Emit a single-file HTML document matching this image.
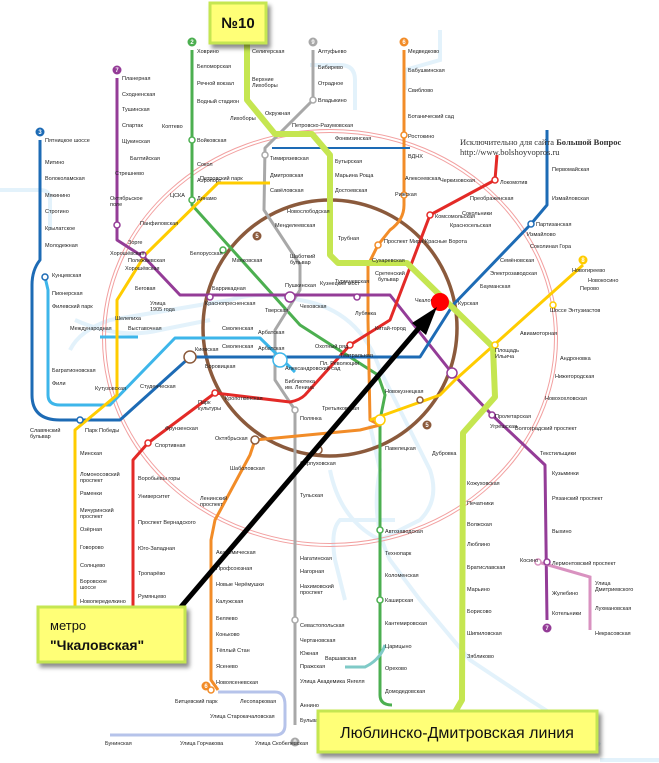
<!DOCTYPE html>
<html><head><meta charset="utf-8">
<style>
html,body{margin:0;padding:0;background:#fff;}
svg{display:block;font-family:"Liberation Sans",sans-serif;}
.s{font-size:5.5px;fill:#222;}
</style></head><body>
<svg width="659" height="763" viewBox="0 0 659 763" xmlns="http://www.w3.org/2000/svg">
<defs>
<filter id="sh" x="-10%" y="-10%" width="130%" height="140%"><feDropShadow dx="3" dy="4" stdDeviation="2" flood-color="#000" flood-opacity="0.45"/></filter>
</defs>
<g fill="none" stroke="#e3f2fb" stroke-width="4">
<path d="M0,190 L40,190 Q50,190 50,200 L50,230"/>
<path d="M70,350 Q80,330 110,320 L230,300 Q260,290 300,300 Q360,310 380,370 L430,470 Q440,500 420,520 L380,540 Q340,520 330,470"/>
<path d="M310,65 L340,65 Q355,65 355,80 L355,110"/>
<path d="M370,425 L380,470 Q370,520 390,560 L420,600 L470,660 L530,700 L600,745"/>
<path d="M405,90 L405,70 L440,60 L440,30"/>
<path d="M75,320 Q120,340 160,330 L210,320"/>
<path d="M395,520 L340,520 Q330,530 335,560 L345,600"/>
<path d="M600,760 L659,760"/>
</g>
<ellipse cx="330" cy="338" rx="227.5" ry="208.5" fill="none" stroke="#f2a0a0" stroke-width="1"/>
<ellipse cx="330" cy="338" rx="224.5" ry="205.5" fill="none" stroke="#f2a0a0" stroke-width="1"/>
<ellipse cx="330" cy="328" rx="127" ry="128" fill="none" stroke="#8b5a3c" stroke-width="3.5"/>
<g fill="none" stroke-width="3" stroke-linejoin="round">
<path d="M192,50 L192,205 L300,325 L378,375 L385,395 L380,420 L380,695 Q380,705 392,705" stroke="#4caf50"/>
<path d="M313,50 L313,100 L265,148 L264,210 L300,265 L300,290 L275,330 L275,380 L295,410 L295,725" stroke="#a8a8a8"/>
<path d="M404,50 L404,205 Q404,220 390,230 L378,245 L368,265 L368,320 L370,420 L380,425 L360,430 L255,440 L250,455 L215,520 L211,540 L211,680 L218,690" stroke="#f28c28"/>
<path d="M117,78 L117,240 L145,258 L180,295 L390,295 L452,373 L492,415 L545,465 L547,620" stroke="#943c97"/>
<path d="M497,155 L495,180 L430,215 L390,320 L350,345 L305,395 Q300,400 290,402 L215,393 L148,443 L133,460 L133,660" stroke="#e32a27"/>
<path d="M40,140 L40,260 Q32,270 32,285 L32,395 Q32,420 60,420 L120,420 L190,357 L420,357 L453,305 L531,224 L547,205 L547,130" stroke="#1d6bb5"/>
<path d="M45,277 L48,290 L48,395 Q48,405 60,405 L110,405 L175,338 L260,338 L295,372 M100,337 L138,337" stroke="#3db6ea"/>
<path d="M583,265 L455,380 L440,395 L370,420 M75,660 L75,430 L117,395 L117,300 L145,255 L218,183 L270,183" stroke="#ffcc00"/>
<path d="M345,667 L365,667 Q380,660 385,645" stroke="#7fcac7"/>
<path d="M272,148 L410,148" stroke="#1d6bb5" stroke-width="2"/>
</g>
<path d="M218,692 L275,692 Q285,692 285,705 L285,725 Q285,735 275,735 L110,735" fill="none" stroke="#b6c3ea" stroke-width="3"/>
<path d="M538,562 L590,577 L590,630" fill="none" stroke="#d992c0" stroke-width="3"/>
<path d="M247,40 L247,100 L275,134 L312,134 L330,155 L330,255 L338,263 L407,263 L493,347 L495,397 L463,433 L462,700 L455,712" fill="none" stroke="#c5e651" stroke-width="6" stroke-linejoin="round"/>
<g font-size="6" fill="#fff" text-anchor="middle" font-weight="bold">
<circle cx="192" cy="42" r="4.5" fill="#4caf50"/><text x="192" y="44">2</text>
<circle cx="313" cy="42" r="4.5" fill="#a8a8a8"/><text x="313" y="44">9</text>
<circle cx="404" cy="42" r="4.5" fill="#f28c28"/><text x="404" y="44">6</text>
<circle cx="117" cy="70" r="4.5" fill="#943c97"/><text x="117" y="72">7</text>
<circle cx="40" cy="132" r="4.5" fill="#1d6bb5"/><text x="40" y="134">3</text>
<circle cx="583" cy="260" r="4.5" fill="#ffcc00"/><text x="583" y="262">8</text>
<circle cx="547" cy="628" r="4.5" fill="#943c97"/><text x="547" y="630">7</text>
<circle cx="257" cy="236" r="4.5" fill="#8b5a3c"/><text x="257" y="238">5</text>
<circle cx="427" cy="425" r="4.5" fill="#8b5a3c"/><text x="427" y="427">5</text>
<circle cx="206" cy="686" r="4.5" fill="#f28c28"/><text x="206" y="688">6</text>
<circle cx="295" cy="742" r="4.5" fill="#a8a8a8"/><text x="295" y="744">9</text>
</g>
<g fill="#fff" stroke-width="1.5">
<circle cx="192" cy="140" r="3" stroke="#4caf50"/><circle cx="192" cy="200" r="3" stroke="#4caf50"/>
<circle cx="223" cy="250" r="3" stroke="#4caf50"/><circle cx="117" cy="225" r="3" stroke="#943c97"/>
<circle cx="143" cy="255" r="3" stroke="#943c97"/><circle cx="210" cy="297" r="3" stroke="#943c97"/>
<circle cx="290" cy="297" r="5" stroke="#943c97"/><circle cx="357" cy="297" r="3" stroke="#943c97"/>
<circle cx="452" cy="373" r="5" stroke="#943c97"/><circle cx="492" cy="415" r="3" stroke="#943c97"/>
<circle cx="430" cy="215" r="3" stroke="#e32a27"/><circle cx="495" cy="180" r="3" stroke="#e32a27"/>
<circle cx="350" cy="345" r="3" stroke="#e32a27"/><circle cx="215" cy="393" r="3" stroke="#e32a27"/>
<circle cx="148" cy="443" r="3" stroke="#e32a27"/><circle cx="190" cy="357" r="6" stroke="#8b5a3c"/>
<circle cx="280" cy="360" r="7" stroke="#3db6ea"/><circle cx="531" cy="224" r="3" stroke="#1d6bb5"/>
<circle cx="80" cy="420" r="3" stroke="#1d6bb5"/><circle cx="45" cy="277" r="3" stroke="#1d6bb5"/>
<circle cx="380" cy="420" r="5" stroke="#ffcc00"/><circle cx="378" cy="245" r="3" stroke="#f28c28"/>
<circle cx="404" cy="195" r="3" stroke="#f28c28"/><circle cx="404" cy="135" r="3" stroke="#f28c28"/>
<circle cx="313" cy="100" r="3" stroke="#a8a8a8"/><circle cx="265" cy="155" r="3" stroke="#a8a8a8"/>
<circle cx="295" cy="410" r="3" stroke="#a8a8a8"/><circle cx="295" cy="620" r="3" stroke="#a8a8a8"/>
<circle cx="380" cy="530" r="3" stroke="#4caf50"/><circle cx="380" cy="600" r="3" stroke="#4caf50"/>
<circle cx="255" cy="440" r="4" stroke="#8b5a3c"/><circle cx="318" cy="450" r="4" stroke="#8b5a3c"/>
<circle cx="420" cy="400" r="3" stroke="#8b5a3c"/><circle cx="538" cy="562" r="3" stroke="#d992c0"/>
<circle cx="547" cy="562" r="3" stroke="#943c97"/><circle cx="211" cy="690" r="3" stroke="#f28c28"/>
<circle cx="553" cy="305" r="3" stroke="#ffcc00"/><circle cx="495" cy="345" r="3" stroke="#ffcc00"/>
</g>
<g class="s">
<text x="197" y="53">Ховрино</text><text x="197" y="68">Беломорская</text><text x="197" y="85">Речной вокзал</text><text x="197" y="103">Водный стадион</text><text x="162" y="128">Коптево</text><text x="197" y="142">Войковская</text><text x="197" y="166">Сокол</text><text x="197" y="182">Аэропорт</text><text x="197" y="200">Динамо</text>
<text x="122" y="80">Планерная</text><text x="122" y="96">Сходненская</text><text x="122" y="111">Тушинская</text><text x="122" y="127">Спартак</text><text x="122" y="143">Щукинская</text><text x="110" y="200">Октябрьское</text><text x="110" y="206">поле</text>
<text x="45" y="142">Пятницкое шоссе</text><text x="45" y="164">Митино</text><text x="45" y="180">Волоколамская</text><text x="45" y="197">Мякинино</text><text x="45" y="213">Строгино</text><text x="45" y="230">Крылатское</text><text x="45" y="247">Молодежная</text>
<text x="52" y="277">Кунцевская</text><text x="52" y="295">Пионерская</text><text x="52" y="308">Филевский парк</text><text x="52" y="372">Багратионовская</text><text x="52" y="385">Фили</text>
<text x="70" y="330">Международная</text><text x="128" y="330">Выставочная</text><text x="195" y="351">Киевская</text><text x="95" y="390">Кутузовская</text><text x="140" y="388">Студенческая</text><text x="30" y="432">Славянский</text><text x="30" y="438">бульвар</text><text x="85" y="432">Парк Победы</text>
<text x="80" y="455">Минская</text><text x="80" y="476">Ломоносовский</text><text x="80" y="482">проспект</text><text x="80" y="495">Раменки</text><text x="80" y="512">Мичуринский</text><text x="80" y="518">проспект</text><text x="80" y="531">Озёрная</text><text x="80" y="549">Говорово</text><text x="80" y="567">Солнцево</text><text x="80" y="583">Боровское</text><text x="80" y="589">шоссе</text><text x="80" y="603">Новопеределкино</text>
<text x="138" y="480">Воробьёвы горы</text><text x="138" y="498">Университет</text><text x="138" y="524">Проспект Вернадского</text><text x="138" y="550">Юго-Западная</text><text x="138" y="575">Тропарёво</text><text x="138" y="598">Румянцево</text><text x="155" y="447">Спортивная</text><text x="165" y="430">Фрунзенская</text>
<text x="216" y="554">Академическая</text><text x="216" y="570">Профсоюзная</text><text x="216" y="586">Новые Черёмушки</text><text x="216" y="603">Калужская</text><text x="216" y="620">Беляево</text><text x="216" y="636">Коньково</text><text x="216" y="652">Тёплый Стан</text><text x="216" y="668">Ясенево</text><text x="216" y="684">Новоясеневская</text><text x="200" y="500">Ленинский</text><text x="200" y="506">проспект</text><text x="230" y="470">Шаболовская</text><text x="215" y="440">Октябрьская</text>
<text x="175" y="703">Битцевский парк</text><text x="240" y="703">Лесопарковая</text><text x="210" y="718">Улица Старокачаловская</text><text x="105" y="745">Бунинская</text><text x="180" y="745">Улица Горчакова</text><text x="255" y="745">Улица Скобелевская</text>
<text x="300" y="420">Полянка</text><text x="300" y="465">Серпуховская</text><text x="300" y="497">Тульская</text><text x="300" y="560">Нагатинская</text><text x="300" y="573">Нагорная</text><text x="300" y="588">Нахимовский</text><text x="300" y="594">проспект</text><text x="300" y="627">Севастопольская</text><text x="300" y="642">Чертановская</text><text x="300" y="655">Южная</text><text x="300" y="668">Пражская</text><text x="300" y="683">Улица Академика Янгеля</text><text x="300" y="707">Аннино</text><text x="300" y="722">Бульвар</text>
<text x="385" y="533">Автозаводская</text><text x="385" y="555">Технопарк</text><text x="385" y="577">Коломенская</text><text x="385" y="602">Каширская</text><text x="385" y="625">Кантемировская</text><text x="385" y="648">Царицыно</text><text x="385" y="670">Орехово</text><text x="385" y="693">Домодедовская</text><text x="385" y="450">Павелецкая</text><text x="385" y="393">Новокузнецкая</text><text x="322" y="410">Третьяковская</text><text x="325" y="660">Варшавская</text>
<text x="467" y="485">Кожуховская</text><text x="467" y="505">Печатники</text><text x="467" y="526">Волжская</text><text x="467" y="546">Люблино</text><text x="467" y="569">Братиславская</text><text x="467" y="591">Марьино</text><text x="467" y="613">Борисово</text><text x="467" y="635">Шипиловская</text><text x="467" y="658">Зябликово</text><text x="432" y="455">Дубровка</text><text x="490" y="428">Угрешская</text>
<text x="552" y="475">Кузьминки</text><text x="552" y="500">Рязанский проспект</text><text x="552" y="533">Выхино</text><text x="552" y="565">Лермонтовский проспект</text><text x="552" y="595">Жулебино</text><text x="552" y="615">Котельники</text><text x="595" y="585">Улица</text><text x="595" y="591">Дмитриевского</text><text x="595" y="610">Лухмановская</text><text x="595" y="635">Некрасовская</text><text x="520" y="562">Косино</text>
<text x="495" y="418">Пролетарская</text><text x="515" y="430">Волгоградский проспект</text><text x="540" y="455">Текстильщики</text><text x="495" y="352">Площадь</text><text x="495" y="358">Ильича</text><text x="520" y="335">Авиамоторная</text><text x="560" y="360">Андроновка</text><text x="555" y="378">Нижегородская</text><text x="545" y="400">Новохохловская</text><text x="550" y="312">Шоссе Энтузиастов</text><text x="580" y="290">Перово</text><text x="572" y="272">Новогиреево</text><text x="588" y="282">Новокосино</text>
<text x="552" y="171">Первомайская</text><text x="552" y="200">Измайловская</text><text x="536" y="226">Партизанская</text><text x="530" y="248">Соколиная Гора</text><text x="500" y="262">Семёновская</text><text x="490" y="275">Электрозаводская</text><text x="480" y="288">Бауманская</text><text x="458" y="305">Курская</text><text x="415" y="302">Чкаловская</text><text x="527" y="236">Измайлово</text>
<text x="440" y="182">Черкизовская</text><text x="500" y="184">Локомотив</text><text x="470" y="200">Преображенская</text><text x="462" y="215">Сокольники</text><text x="450" y="227">Красносельская</text><text x="435" y="218">Комсомольская</text><text x="425" y="243">Красные Ворота</text><text x="405" y="180">Алексеевская</text><text x="395" y="196">Рижская</text><text x="384" y="243">Проспект Мира</text><text x="372" y="262">Сухаревская</text><text x="375" y="275">Сретенский</text><text x="378" y="281">бульвар</text><text x="338" y="240">Трубная</text><text x="335" y="283">Тургеневская</text>
<text x="408" y="53">Медведково</text><text x="408" y="72">Бабушкинская</text><text x="408" y="92">Свиблово</text><text x="408" y="118">Ботанический сад</text><text x="408" y="138">Ростокино</text><text x="408" y="158">ВДНХ</text>
<text x="318" y="53">Алтуфьево</text><text x="318" y="69">Бибирево</text><text x="318" y="85">Отрадное</text><text x="318" y="102">Владыкино</text><text x="292" y="127">Петровско-Разумовская</text><text x="335" y="140">Фонвизинская</text><text x="270" y="160">Тимирязевская</text><text x="270" y="177">Дмитровская</text><text x="270" y="192">Савёловская</text><text x="335" y="163">Бутырская</text><text x="335" y="177">Марьина Роща</text><text x="335" y="192">Достоевская</text>
<text x="252" y="53">Селигерская</text><text x="252" y="81">Верхние</text><text x="252" y="87">Лихоборы</text><text x="265" y="115">Окружная</text><text x="230" y="120">Лихоборы</text>
<text x="287" y="213">Новослободская</text><text x="275" y="227">Менделеевская</text><text x="232" y="262">Маяковская</text><text x="190" y="255">Белорусская</text><text x="200" y="180">Петровский парк</text><text x="170" y="197">ЦСКА</text>
<text x="212" y="290">Баррикадная</text><text x="205" y="305">Краснопресненская</text><text x="285" y="287">Пушкинская</text><text x="300" y="308">Чеховская</text><text x="265" y="312">Тверская</text><text x="320" y="285">Кузнецкий мост</text><text x="355" y="315">Лубянка</text><text x="375" y="330">Китай-город</text><text x="290" y="258">Шаботкий</text><text x="290" y="264">бульвар</text>
<text x="222" y="330">Смоленская</text><text x="258" y="334">Арбатская</text><text x="222" y="348">Смоленская</text><text x="258" y="350">Арбатская</text><text x="205" y="368">Боровицкая</text><text x="285" y="370">Александровский сад</text><text x="315" y="348">Охотный ряд</text><text x="340" y="357">Театральная</text><text x="320" y="365">Пл. Революции</text><text x="285" y="383">Библиотека</text><text x="285" y="389">им. Ленина</text><text x="225" y="400">Кропоткинская</text><text x="198" y="404">Парк</text><text x="198" y="410">культуры</text>
<text x="128" y="262">Полежаевская</text><text x="128" y="244">Зорге</text><text x="110" y="255">Хорошёвская</text><text x="125" y="270">Хорошёвская</text><text x="135" y="290">Беговая</text><text x="150" y="305">Улица</text><text x="150" y="311">1905 года</text><text x="115" y="320">Шелепиха</text><text x="130" y="160">Балтийская</text><text x="115" y="175">Стрешнево</text><text x="140" y="225">Панфиловская</text>
</g>
<text x="460" y="145" font-family="Liberation Serif,serif" font-size="8.5" fill="#333">Исключительно для сайта <tspan font-weight="bold">Большой Вопрос</tspan></text>
<text x="460" y="155" font-family="Liberation Serif,serif" font-size="8.5" fill="#333">http://www.bolshoyvopros.ru</text>
<circle cx="440" cy="302" r="9" fill="#ff0000"/>
<line x1="180" y1="608" x2="424" y2="322" stroke="#000" stroke-width="5"/>
<polygon points="437,307 412,323 426,335" fill="#000"/>
<g filter="url(#sh)">
<rect x="210" y="3" width="56" height="40" fill="#ffff77" stroke="#c5e651" stroke-width="3"/>
<rect x="38" y="607" width="147" height="55" fill="#ffff77" stroke="#c5e651" stroke-width="3"/>
<rect x="318" y="711" width="279" height="41" fill="#ffff77" stroke="#c5e651" stroke-width="3"/>
</g>
<text x="238" y="28" font-size="15" font-weight="bold" text-anchor="middle" fill="#111">№10</text>
<text x="50" y="630" font-size="13" fill="#111">метро</text>
<text x="50" y="650" font-size="14" font-weight="bold" fill="#111">"Чкаловская"</text>
<text x="457" y="738" font-size="16" text-anchor="middle" fill="#111">Люблинско-Дмитровская линия</text>
</svg>
</body></html>
